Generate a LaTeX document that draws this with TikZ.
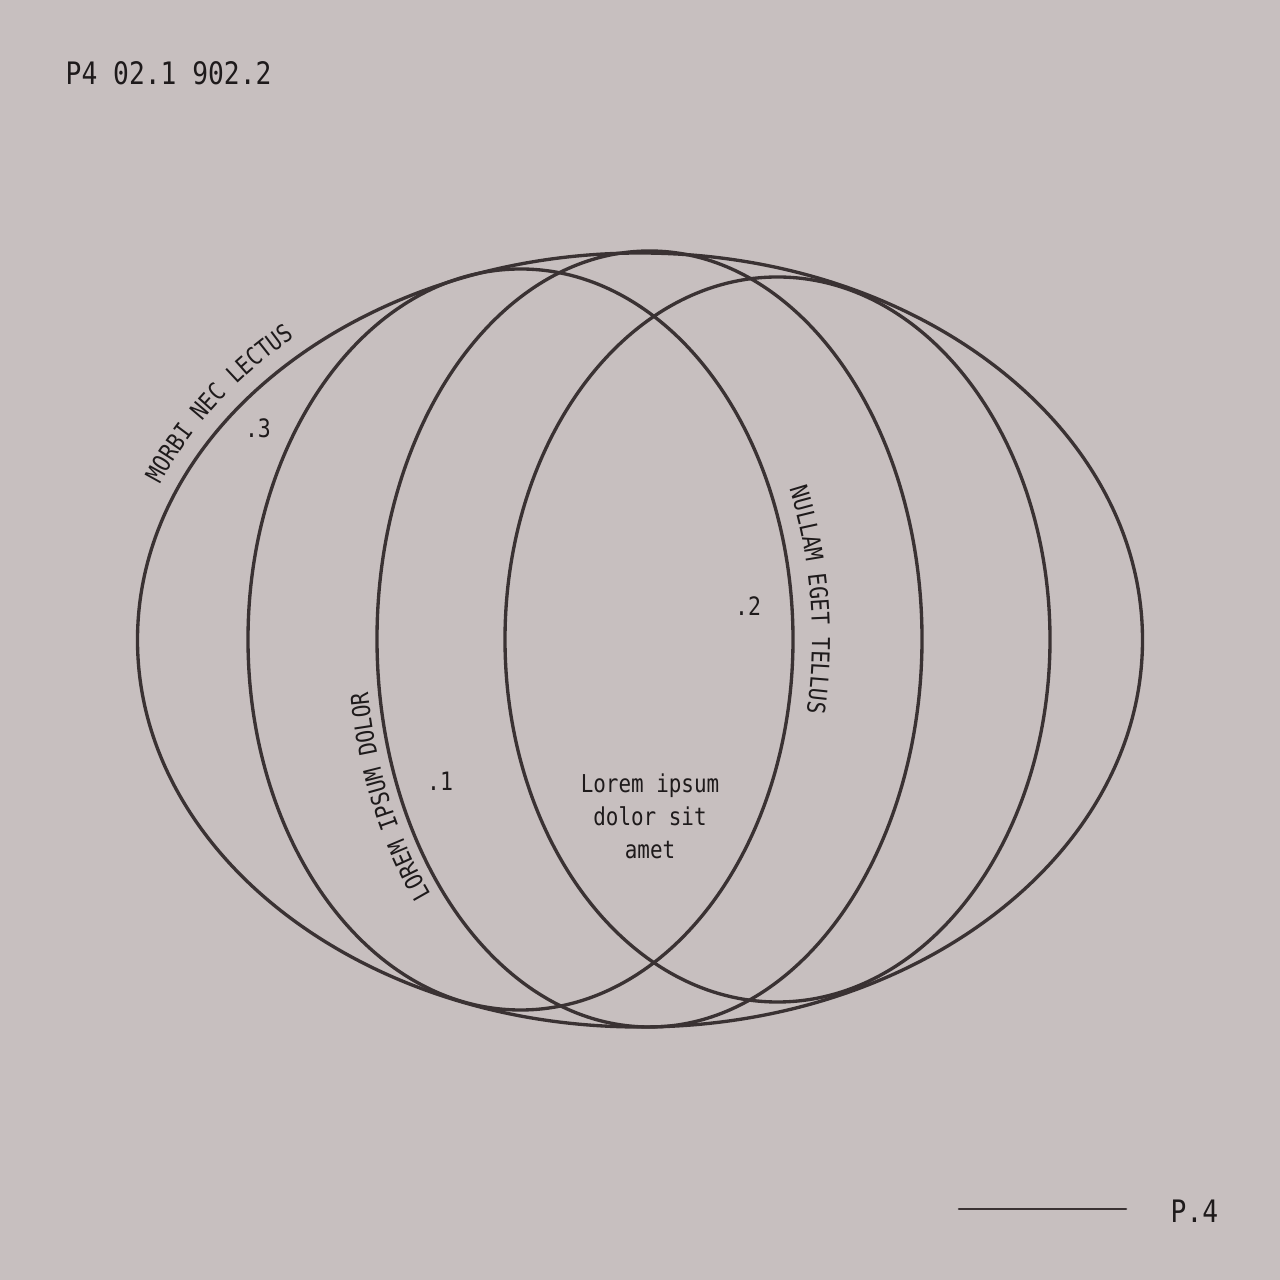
\documentclass[tikz,border=0pt]{standalone}
\usepackage{fontspec}
\usetikzlibrary{decorations.text}
\newfontfamily\monofont[FakeStretch=0.85]{DejaVu Sans Mono}
\definecolor{paper}{RGB}{199,191,191}
\definecolor{ink}{RGB}{30,26,27}
\definecolor{wire}{RGB}{58,50,51}
\newcommand\lblfont{\monofont\fontsize{7.2}{8}\selectfont}
\newcommand\arcfont{\monofont\fontsize{7}{8}\selectfont}
\begin{document}
\begin{tikzpicture}[line cap=round, line join=round,
  ring/.style={draw=wire, line width=0.95pt},
  arclabel/.style={decoration={text along path, text align=center, text color=ink}, decorate},
  tag/.style={font=\lblfont, text=ink, inner sep=0pt},
  heading/.style={font=\monofont\fontsize{8.8}{10}\selectfont, text=ink, inner sep=0pt}]
 \fill[paper] (-6.4,-6.4) rectangle (6.4,6.4);
 \draw[ring] (0,0) ellipse [x radius=5.025, y radius=3.87];
 \draw[ring] (-1.195,0.005) ellipse [x radius=2.725, y radius=3.705];
 \draw[ring] (0.095,0.01) ellipse [x radius=2.725, y radius=3.88];
 \draw[ring] (1.375,0.005) ellipse [x radius=2.725, y radius=3.625];
 \path[arclabel, decoration={text={|\arcfont|MORBI NEC LECTUS}}] (165:5.2 and 4.05) arc[start angle=165, end angle=125, x radius=5.2, y radius=4.05];
 \path[arclabel, decoration={text={|\arcfont|LOREM IPSUM DOLOR}}] ([shift={(0.095,0.01)}]226:2.84 and 4.0) arc[start angle=226, end angle=182, x radius=2.84, y radius=4.0];
 \path[arclabel, decoration={text={|\arcfont|NULLAM EGET TELLUS}}] ([shift={(-1.195,0.005)}]26:2.915 and 3.885) arc[start angle=26, end angle=-14, x radius=2.915, y radius=3.885];
 \node[tag] (n3) at (-3.82,2.12) {.3};
 \node[tag] (n2) at (1.08,0.34) {.2};
 \node[tag] (n1) at (-2.0,-1.41) {.1};
 \node[tag, align=center, font=\monofont\fontsize{7}{9.4}\selectfont] (core) at (0.10,-1.76) {Lorem ipsum\\dolor sit\\amet};
 \node[heading, anchor=base west] (code) at (-5.75,5.55) {P4 02.1 902.2};
 \node[heading, anchor=base west] (page) at (5.30,-5.82) {P.4};
 \coordinate (rulestart) at (3.19,-5.69);
 \coordinate (ruleend) at (4.86,-5.69);
 \draw[wire, line width=0.75pt] (rulestart) -- (ruleend);
\end{tikzpicture}
\end{document}
